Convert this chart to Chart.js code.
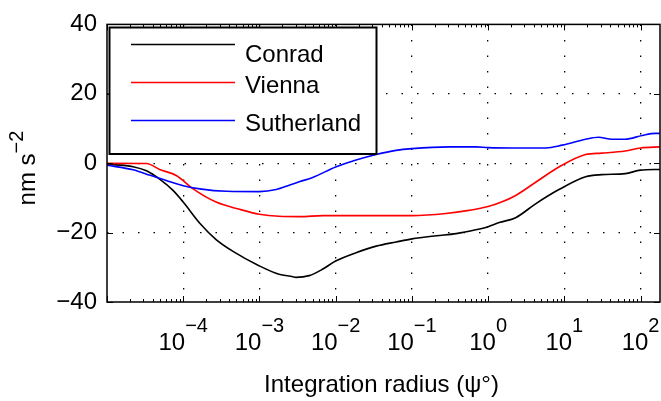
<!DOCTYPE html>
<html>
<head>
<meta charset="utf-8">
<script src="https://cdn.jsdelivr.net/npm/chart.js@4.4.0/dist/chart.umd.min.js"></script>
<style>
html, body { margin: 0; padding: 0; background: #fff; }
canvas { display: block; }
</style>
</head>
<body>
<canvas id="chart" width="661" height="401"></canvas>
<script>
// integration radius in degrees, values in nm s^-2
var conradX = [1e-5, 2.2e-5, 3.3e-5, 4.9e-5, 7.4e-5, 1.0e-4, 1.65e-4, 2.7e-4, 4.5e-4, 1.0e-3, 1.8e-3, 2.75e-3, 3.0e-3, 4.5e-3, 6.8e-3, 1.0e-2, 1.85e-2, 3.4e-2, 6.2e-2, 0.1, 0.21, 0.38, 0.69, 1.0, 1.4, 2.3, 4.2, 8.5, 19, 31, 63, 100, 180];
var conradY = [-0.3, -1.0, -2.2, -4.6, -7.9, -11.2, -17.3, -22.0, -25.4, -29.6, -32.0, -32.7, -32.9, -32.4, -30.5, -28.2, -25.8, -23.9, -22.7, -21.8, -20.9, -20.3, -19.2, -18.3, -17.1, -15.7, -11.7, -7.6, -3.9, -3.3, -3.0, -2.0, -1.8];

var viennaX = [1e-5, 3.3e-5, 4.9e-5, 8.2e-5, 1.35e-4, 2.7e-4, 5.5e-4, 1.0e-3, 1.8e-3, 3.4e-3, 6.8e-3, 0.1, 0.28, 0.56, 1.0, 1.5, 2.3, 4.2, 8.5, 19, 31, 63, 100, 180];
var viennaY = [-0.05, -0.1, -1.8, -3.6, -7.4, -11.2, -13.3, -14.7, -15.3, -15.4, -15.1, -15.1, -14.5, -13.6, -12.5, -11.2, -9.3, -5.5, -1.1, 2.5, 2.9, 3.5, 4.4, 4.7];

var sutherlandX = [1e-5, 2.2e-5, 3.7e-5, 6.0e-5, 1.0e-4, 1.65e-4, 3.7e-4, 1.0e-3, 1.66e-3, 2.5e-3, 3.4e-3, 5.0e-3, 1.0e-2, 1.85e-2, 3.4e-2, 6.2e-2, 0.1, 0.31, 0.69, 1.0, 2.1, 5.7, 9.4, 19, 28, 42, 63, 105, 157, 180];
var sutherlandY = [-0.6, -1.9, -3.5, -5.0, -6.5, -7.4, -8.1, -8.2, -7.6, -6.3, -5.3, -4.1, -1.1, 0.9, 2.5, 3.7, 4.2, 4.7, 4.7, 4.5, 4.4, 4.4, 5.2, 6.9, 7.5, 6.9, 6.9, 8.0, 8.6, 8.6];

var seriesNames = ['Conrad', 'Vienna', 'Sutherland'];
var seriesColors = ['#000000', '#ff0000', '#0000ff'];
var yTicks = [-40, -20, 0, 20, 40];
var xDecades = [-4, -3, -2, -1, 0, 1, 2];
var xMin = 1e-5, xMax = 180;
var xTitle = 'Integration radius (ψ°)';
var yTitle = 'nm s';
var yTitleSup = '−2';

var FONT = '"Liberation Sans", Arial, Helvetica, sans-serif';

function toPoints(xs, ys){
	var pts = [];
	for(var i = 0; i < xs.length; i++){
		pts.push({x: xs[i], y: ys[i]});
	}
	return pts;
}

function minus(v){
	return v < 0 ? '\u2212' + Math.abs(v) : '' + v;
}

// matlab style box, inward ticks, superscript labels and legend
var matlabAxes = {
	id: 'matlabAxes',
	afterDraw: function(chart){
		var ctx = chart.ctx;
		var a = chart.chartArea;
		var xs = chart.scales.x;
		var ys = chart.scales.y;
		ctx.save();
		ctx.strokeStyle = '#000';
		ctx.lineWidth = 1;

		// x ticks, major and minor, bottom and top
		ctx.beginPath();
		for(var d = -5; d <= 2; d++){
			for(var k = 1; k <= 9; k++){
				var v = k * Math.pow(10, d);
				if(v < xMin || v > xMax) continue;
				var px = Math.round(xs.getPixelForValue(v)) + 0.5;
				var len = (k == 1) ? 6 : 3;
				ctx.moveTo(px, a.bottom); ctx.lineTo(px, a.bottom - len);
				ctx.moveTo(px, a.top); ctx.lineTo(px, a.top + len);
			}
		}
		// y ticks left and right
		for(var i = 0; i < yTicks.length; i++){
			var py = Math.round(ys.getPixelForValue(yTicks[i])) + 0.5;
			ctx.moveTo(a.left, py); ctx.lineTo(a.left + 6, py);
			ctx.moveTo(a.right, py); ctx.lineTo(a.right - 6, py);
		}
		ctx.stroke();

		// box
		ctx.lineWidth = 1.5;
		ctx.strokeRect(a.left, a.top, a.right - a.left, a.bottom - a.top);

		// x tick labels 10^n
		ctx.fillStyle = '#000';
		ctx.textBaseline = 'alphabetic';
		ctx.textAlign = 'left';
		for(var j = 0; j < xDecades.length; j++){
			var tx = xs.getPixelForValue(Math.pow(10, xDecades[j]));
			var sup = minus(xDecades[j]);
			ctx.font = '24px ' + FONT;
			var w1 = ctx.measureText('10').width;
			ctx.font = '20px ' + FONT;
			var w2 = ctx.measureText(sup).width;
			var sx = tx - (w1 + w2) / 2;
			ctx.font = '24px ' + FONT;
			ctx.fillText('10', sx, 350);
			ctx.font = '20px ' + FONT;
			ctx.fillText(sup, sx + w1, 332);
		}

		// x title
		ctx.font = '24px ' + FONT;
		ctx.textAlign = 'center';
		ctx.fillText(xTitle, (a.left + a.right) / 2 - 2, 392);

		// y title, rotated
		ctx.save();
		ctx.translate(35, 168);
		ctx.rotate(-Math.PI / 2);
		ctx.textAlign = 'left';
		ctx.font = '24px ' + FONT;
		var t1 = ctx.measureText(yTitle).width;
		ctx.font = '20px ' + FONT;
		var t2 = ctx.measureText(yTitleSup).width;
		ctx.font = '24px ' + FONT;
		ctx.fillText(yTitle, -(t1 + t2) / 2, 0);
		ctx.font = '20px ' + FONT;
		ctx.fillText(yTitleSup, -(t1 + t2) / 2 + t1, -12);
		ctx.restore();

		// legend
		var lx = 109.5, ly = 27.5, lw = 267, lh = 126.5;
		ctx.fillStyle = '#fff';
		ctx.fillRect(lx, ly, lw, lh);
		ctx.lineWidth = 2;
		ctx.strokeStyle = '#000';
		ctx.strokeRect(lx, ly, lw, lh);
		var lineY = [44.5, 82.5, 120.5];
		var textY = [61.5, 92.5, 131];
		ctx.font = '24px ' + FONT;
		ctx.textAlign = 'left';
		for(var n = 0; n < seriesNames.length; n++){
			ctx.strokeStyle = seriesColors[n];
			ctx.lineWidth = 1.5;
			ctx.beginPath();
			ctx.moveTo(131, lineY[n]);
			ctx.lineTo(235, lineY[n]);
			ctx.stroke();
			ctx.fillStyle = '#000';
			ctx.fillText(seriesNames[n], 245, textY[n]);
		}
		ctx.restore();
	}
};

var ctx = document.getElementById('chart').getContext('2d');
var myChart = new Chart(ctx, {
	type: 'line',
	data: {
		datasets: [{
			label: seriesNames[0],
			data: toPoints(conradX, conradY),
			borderColor: seriesColors[0],
			order: 3
		}, {
			label: seriesNames[1],
			data: toPoints(viennaX, viennaY),
			borderColor: seriesColors[1],
			order: 2
		}, {
			label: seriesNames[2],
			data: toPoints(sutherlandX, sutherlandY),
			borderColor: seriesColors[2],
			order: 1
		}]
	},
	options: {
		responsive: false,
		animation: false,
		devicePixelRatio: 1,
		layout: {padding: {left: 40, top: 19, right: 1, bottom: 99}},
		elements: {
			line: {borderWidth: 1.6, cubicInterpolationMode: 'monotone', fill: false},
			point: {radius: 0, hoverRadius: 0}
		},
		plugins: {
			legend: {display: false},
			tooltip: {enabled: false}
		},
		scales: {
			x: {
				type: 'logarithmic',
				min: xMin,
				max: xMax,
				afterBuildTicks: function(scale){
					scale.ticks = xDecades.map(function(d){ return {value: Math.pow(10, d)}; });
				},
				afterFit: function(scale){ scale.height = 0; },
				ticks: {display: false},
				grid: {color: '#000', lineWidth: 1.3, drawTicks: false},
				border: {display: false, dash: [1.5, 14]}
			},
			y: {
				min: -40,
				max: 40,
				afterBuildTicks: function(scale){
					scale.ticks = yTicks.map(function(v){ return {value: v}; });
				},
				afterFit: function(scale){ scale.width = 67; },
				ticks: {
					padding: 10,
					color: '#000',
					font: {family: FONT, size: 24},
					callback: function(v){ return minus(v); }
				},
				grid: {
					color: function(c){ return (c.tick && Math.abs(c.tick.value) == 40) ? 'rgba(0,0,0,0)' : '#000'; },
					lineWidth: 1.3,
					drawTicks: false
				},
				border: {display: false, dash: [1.5, 14]}
			}
		}
	},
	plugins: [matlabAxes]
});
</script>
</body>
</html>
